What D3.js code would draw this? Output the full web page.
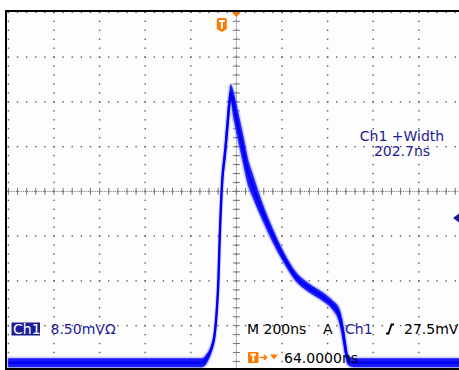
<!DOCTYPE html>
<html>
<head>
<meta charset="utf-8">
<script src="https://cdn.jsdelivr.net/npm/d3@7"></script>
<style>
  body { margin: 0; background: #fff; }
  svg { display: block; }
  text { font-family: "DejaVu Sans", Verdana, sans-serif; font-size: 14px; }
</style>
</head>
<body>
<div id="scope"></div>
<script>
// captured waveform, time in ns (0 = trigger), amplitude in mV above baseline
var timeNs = [-936, -90, -75, -65, -57, -47, -40, -34, -27, -15, -9, 2, 14, 24, 33, 39, 50, 72, 94, 116, 134, 178, 222, 273, 324, 383, 441, 485, 514, 528, 540, 550, 562, 580, 1064];
var ampMv  = [0, 0, 0.3, 0.9, 1.5, 2.5, 3.5, 4.6, 7.2, 15.7, 24.0, 34.7, 39.8, 44.8, 49.3, 51.3, 49.3, 44.8, 40.4, 36.0, 33.8, 28.7, 24.3, 19.9, 16.4, 14.2, 12.6, 11.0, 9.1, 6.6, 3.4, 0.9, 0.2, 0, 0];
// half width of the persistence band (mV)
var bandMv = [0.8, 0.8, 0.8, 0.8, 0.7, 0.6, 0.6, 0.6, 0.6, 0.6, 0.7, 0.9, 1.2, 1.5, 1.6, 1.5, 2.2, 2.5, 2.5, 2.3, 2.1, 1.5, 1.2, 0.9, 0.8, 0.75, 0.75, 0.8, 1.2, 1.5, 1.5, 1.0, 0.8, 0.8, 0.8];

// scope settings
var nsPerDiv = 200, hDivs = 10, horizPos = 64;
var mvPerDiv = 8.5, vDivs = 8, centerMv = 32.55;
var trigLevel = 27.5;
var measLabel = ['Ch1 +Width', '202.7ns'];
var chLabel = ['Ch1', '8.50mV\u03a9'];
var timeLabel = ['M 200ns', 'A', 'Ch1', '27.5mV'];
var posLabel = '64.0000ns';

var W = 459, H = 370;
var orange = '#ff7800', navy = '#1c1c96';

var svg = d3.select('#scope').append('svg')
            .attr('width', W)
            .attr('height', H);

var x = d3.scaleLinear()
          .domain([horizPos - nsPerDiv * hDivs / 2, horizPos + nsPerDiv * hDivs / 2])
          .range([8.4, 464.4]);
var y = d3.scaleLinear()
          .domain([centerMv - mvPerDiv * vDivs / 2, centerMv + mvPerDiv * vDivs / 2])
          .range([370.4, 12.4]);

svg.append('defs').append('clipPath').attr('id', 'screen')
   .append('rect').attr('x', 7).attr('y', 12).attr('width', W - 7).attr('height', 356);

svg.append('rect')
   .attr('x', 7).attr('y', 12).attr('width', W - 7).attr('height', 356)
   .style('fill', '#fdfdfd');

var grid = svg.append('g').attr('clip-path', 'url(#screen)');
var xMajor = d3.range(hDivs + 1).map(function(i){ return x.domain()[0] + i * nsPerDiv; });
var yMajor = d3.range(vDivs + 1).map(function(i){ return y.domain()[0] + i * mvPerDiv; });
var xMinor = d3.range(hDivs * 5 + 1).map(function(i){ return x.domain()[0] + i * nsPerDiv / 5; });
var yMinor = d3.range(vDivs * 5 + 1).map(function(i){ return y.domain()[0] + i * mvPerDiv / 5; });

// dotted graticule
var dots = [];
xMajor.forEach(function(t){ yMinor.forEach(function(v){ dots.push([t, v]); }); });
yMajor.forEach(function(v){ xMinor.forEach(function(t){ dots.push([t, v]); }); });
grid.selectAll('rect.dot')
    .data(dots)
    .enter()
    .append('rect')
    .attr('class', 'dot')
    .attr('x', function(d){ return x(d[0]) - 0.7; })
    .attr('y', function(d){ return y(d[1]) - 0.7; })
    .attr('width', 1.4)
    .attr('height', 1.4)
    .style('fill', '#5a5a5a');

// center axes with tick marks
var cx = x(horizPos), cy = y(centerMv);
grid.append('line').attr('x1', 7).attr('x2', W).attr('y1', cy).attr('y2', cy)
    .style('stroke', '#777').style('stroke-dasharray', '1,0.8');
grid.append('line').attr('x1', cx).attr('x2', cx).attr('y1', 12).attr('y2', 368)
    .style('stroke', '#777').style('stroke-dasharray', '1,0.8');
grid.selectAll('line.xt')
    .data(xMinor)
    .enter()
    .append('line')
    .attr('class', 'xt')
    .attr('x1', function(d){ return x(d); }).attr('x2', function(d){ return x(d); })
    .attr('y1', cy - 3.5).attr('y2', cy + 3.5)
    .style('stroke', '#777');
grid.selectAll('line.yt')
    .data(yMinor)
    .enter()
    .append('line')
    .attr('class', 'yt')
    .attr('y1', function(d){ return y(d); }).attr('y2', function(d){ return y(d); })
    .attr('x1', cx - 3.5).attr('x2', cx + 3.5)
    .style('stroke', '#777');

// waveform: persistence band + core trace
var wave = timeNs.map(function(t, i){ return {t: t, v: ampMv[i], b: bandMv[i]}; });
var band = d3.area()
             .x(function(d){ return x(d.t); })
             .y0(function(d){ return y(d.v - d.b); })
             .y1(function(d){ return y(d.v + d.b); })
             .curve(d3.curveMonotoneX);
var line = d3.line()
             .x(function(d){ return x(d.t); })
             .y(function(d){ return y(d.v); })
             .curve(d3.curveMonotoneX);
var tr = svg.append('g').attr('clip-path', 'url(#screen)');
tr.append('path').attr('d', band(wave))
  .style('fill', 'rgba(120,120,255,0.35)')
  .style('stroke', 'rgba(120,120,255,0.3)').style('stroke-width', 4);
tr.append('path').attr('d', band(wave))
  .style('fill', '#1818ff')
  .style('stroke', 'rgba(30,30,255,0.6)').style('stroke-width', 1.2);
tr.append('path').attr('d', line(wave))
  .style('fill', 'none').style('stroke', '#0000f0').style('stroke-width', 2.4);

// screen frame
svg.append('path')
   .attr('d', 'M' + (W + 2) + ',11H6V369H' + (W + 2))
   .style('fill', 'none').style('stroke', '#000').style('stroke-width', 2);

// horizontal position marker and trigger point
svg.append('path')
   .attr('d', 'M' + (cx - 4.5) + ',12.5h9l-4.5,4.5z')
   .style('fill', orange);
var tx = x(0);
svg.append('path')
   .attr('d', 'M' + (tx - 5) + ',20q0,-2 2,-2h6q2,0 2,2v9l-5,3l-5,-3z')
   .style('fill', orange);
svg.append('path')
   .attr('d', 'M' + (tx - 3) + ',21h6M' + tx + ',21v8')
   .style('stroke', '#fff').style('stroke-width', 2).style('fill', 'none');

// trigger level marker
var ty = y(trigLevel);
svg.append('path')
   .attr('d', 'M' + W + ',' + (ty - 4.5) + 'l-6,4.5l6,4.5z')
   .style('fill', navy);

// measurement readout
svg.append('text').attr('x', 402).attr('y', 141).attr('text-anchor', 'middle')
   .style('fill', navy).text(measLabel[0]);
svg.append('text').attr('x', 402).attr('y', 156).attr('text-anchor', 'middle')
   .style('fill', navy).text(measLabel[1]);

// channel readout
svg.append('rect').attr('x', 11.5).attr('y', 322.5).attr('width', 28.5).attr('height', 13)
   .style('fill', navy);
svg.append('text').attr('x', 13).attr('y', 334).style('fill', '#fff').text(chLabel[0]);
svg.append('text').attr('x', 50.5).attr('y', 334).style('fill', navy).text(chLabel[1]);

// timebase / trigger readout
svg.append('text').attr('x', 247).attr('y', 334).style('fill', '#000').text(timeLabel[0]);
svg.append('text').attr('x', 323).attr('y', 334).style('fill', '#000').text(timeLabel[1]);
svg.append('text').attr('x', 345).attr('y', 334).style('fill', navy).text(timeLabel[2]);
svg.append('path').attr('d', 'M386,333.5h2.5l3,-9h2.5')
   .style('fill', 'none').style('stroke', '#000').style('stroke-width', 1.8);
svg.append('text').attr('x', 404).attr('y', 334).style('fill', '#000').text(timeLabel[3]);

// position readout
svg.append('rect').attr('x', 248).attr('y', 352).attr('width', 10.5).attr('height', 11).attr('rx', 1)
   .style('fill', orange);
svg.append('path').attr('d', 'M250.5,354.5h5.5M253.25,354.5v7')
   .style('stroke', '#fff').style('stroke-width', 2).style('fill', 'none');
svg.append('path').attr('d', 'M259.5,357.5h7M264,355l2.5,2.5l-2.5,2.5')
   .style('stroke', orange).style('stroke-width', 1.5).style('fill', 'none');
svg.append('path').attr('d', 'M270,354.5h8l-4,5z').style('fill', orange);
svg.append('text').attr('x', 284).attr('y', 362.5).style('fill', '#000').text(posLabel);
</script>
</body>
</html>
